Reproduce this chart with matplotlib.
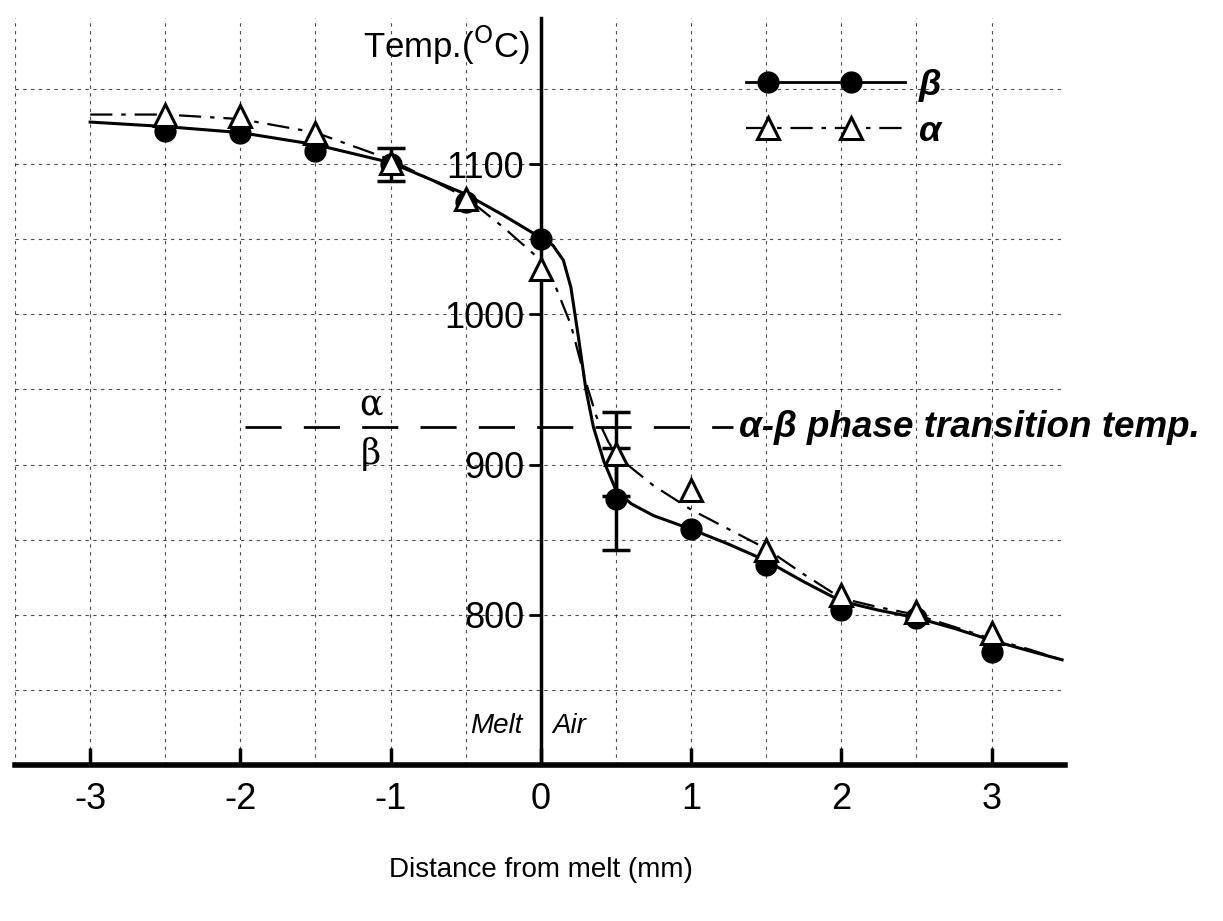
import numpy as np
import matplotlib.pyplot as plt
from matplotlib.lines import Line2D
from matplotlib.legend_handler import HandlerBase

# measured points (distance from melt in mm, temperature in C)
dist = [-2.5, -2.0, -1.5, -1.0, -0.5, 0.0, 0.5, 1.0, 1.5, 2.0, 2.5, 3.0]
temp_beta = [1122, 1121, 1109, 1100, 1075, 1050, 877, 857, 833, 803, 798, 775]
temp_alpha = [1133, 1132, 1121, 1101, 1077, 1030, 907, 883, 843, 813, 802, 788]

# error bars
err_alpha_x = [-1.0, 0.5]
err_alpha_y = [1100, 907]
err_alpha = [11, 28]
err_beta_x = [0.5]
err_beta_y = [877]
err_beta = [34]

# hand drawn guide curves
curve_beta_x = [-3.0, -2.5, -2.0, -1.5, -1.0, -0.5, -0.25, 0.0, 0.08, 0.15, 0.2, 0.25, 0.3,
                0.35, 0.42, 0.5, 0.6, 0.75, 1.0, 1.25, 1.5, 1.75, 2.0, 2.25, 2.5, 2.75,
                3.0, 3.25, 3.47]
curve_beta_y = [1128, 1125, 1121, 1113, 1101, 1080, 1066, 1051, 1046, 1036, 1018, 985, 950,
                925, 902, 883, 874, 866, 857, 847, 836, 822, 809, 803, 798, 791,
                783, 776, 770]
curve_alpha_x = [-3.0, -2.5, -2.0, -1.5, -1.0, -0.5, -0.25, 0.0, 0.1, 0.2, 0.3, 0.37, 0.45,
                 0.5, 0.6, 0.75, 1.0, 1.25, 1.5, 1.75, 2.0, 2.25, 2.5, 2.75, 3.0, 3.25, 3.47]
curve_alpha_y = [1133, 1133, 1130, 1121, 1103, 1078, 1058, 1036, 1018, 993, 955, 932, 915,
                 907, 898, 886, 870, 857, 844, 827, 811, 805, 800, 792, 784, 777, 770]

transition_temp = 925
xticks = [-3, -2, -1, 0, 1, 2, 3]
yticks = [800, 900, 1000, 1100]

plt.rcParams['font.family'] = ['Liberation Sans', 'DejaVu Sans']


class TwoMarkerHandler(HandlerBase):
    # line over the full handle, two markers on its left part
    def create_artists(self, legend, orig_handle, xdescent, ydescent, width, height,
                       fontsize, trans):
        y = height / 2.0 - ydescent
        line = Line2D([-xdescent, -xdescent + width], [y, y])
        line.update_from(orig_handle)
        line.set_marker('None')
        marks = Line2D(-xdescent + width * np.array([0.14, 0.66]), [y, y])
        marks.update_from(orig_handle)
        marks.set_linestyle('None')
        line.set_transform(trans)
        marks.set_transform(trans)
        return [line, marks]


fig = plt.figure(figsize=(12.23, 9.21), dpi=100)
ax = fig.add_axes([0.0123, 0.1694, 0.8586, 0.8106])
ax.set_xlim(-3.5, 3.49)
ax.set_ylim(700, 1197)

# grid every 0.5 mm / 50 C
for gx in np.arange(-3.5, 3.51, 0.5):
    ax.axvline(gx, color='black', lw=0.8, ls=(0, (3, 4)), alpha=0.7, zorder=0)
for gy in np.arange(750, 1151, 50):
    ax.axhline(gy, color='black', lw=0.8, ls=(0, (3, 4)), alpha=0.7, zorder=0)

ax.plot(curve_beta_x, curve_beta_y, color='black', lw=2.2, zorder=2)
ax.plot(curve_alpha_x, curve_alpha_y, color='black', lw=1.6,
        ls=(0, (10, 4, 2, 4)), zorder=2)

ax.errorbar(err_beta_x, err_beta_y, yerr=err_beta, fmt='none', ecolor='black',
            elinewidth=2.5, capsize=10, capthick=2.5, zorder=3)
ax.errorbar(err_alpha_x, err_alpha_y, yerr=err_alpha, fmt='none', ecolor='black',
            elinewidth=2.5, capsize=10, capthick=2.5, zorder=3)

ax.plot(dist, temp_beta, 'o', color='black', ms=15, zorder=4)
ax.plot(dist, temp_alpha, '^', mfc='white', mec='black', mew=2.2, ms=16, zorder=5)

# phase transition line
ax.plot([-1.97, 1.28], [transition_temp, transition_temp], color='black', lw=2,
        ls=(0, (13, 8)), zorder=1)
ax.text(-1.13, 940, u'\u03b1', fontsize=25, family='DejaVu Serif', ha='center', va='center')
ax.text(-1.13, 907, u'\u03b2', fontsize=25, family='DejaVu Serif', ha='center', va='center')
ax.text(1.32, transition_temp, u'\u03b1-\u03b2 phase transition temp.', fontsize=26.5,
        fontweight='bold', style='italic', ha='left', va='center')

ax.text(-0.12, 726, 'Melt', fontsize=20, style='italic', ha='right', va='center')
ax.text(0.08, 726, 'Air', fontsize=20, style='italic', ha='left', va='center')

# axes
for s in ['top', 'right']:
    ax.spines[s].set_visible(False)
ax.spines['left'].set_position(('data', 0))
ax.spines['left'].set_linewidth(2.5)
ax.spines['bottom'].set_linewidth(4)
ax.set_xticks(xticks)
ax.set_xticklabels([str(t) for t in xticks])
ax.set_yticks(yticks)
ax.tick_params(axis='x', direction='in', length=12, width=2.5, labelsize=26, pad=12)
ax.tick_params(axis='y', direction='out', length=9, width=2, labelsize=26, pad=3)

ax.text(-0.07, 1179, r'Temp.($^{\rm O}$C)', fontsize=25, ha='right', va='center')
fig.text(0.4425, 0.055, 'Distance from melt (mm)', fontsize=20, ha='center', va='center')

handles = [Line2D([], [], color='black', lw=2, marker='o', ms=15),
           Line2D([], [], color='black', lw=1.6, ls=(0, (10, 4, 2, 4)), marker='^',
                  mfc='white', mec='black', mew=2.2, ms=16)]
leg = ax.legend(handles, [u'\u03b2', u'\u03b1'], loc='upper left',
                bbox_to_anchor=(0.665, 0.977),
                handler_map={Line2D: TwoMarkerHandler()}, handlelength=4.4, frameon=False,
                fontsize=26, labelspacing=0.3, handletextpad=0.4)
for t in leg.get_texts():
    t.set_fontstyle('italic')
    t.set_fontweight('bold')

fig.savefig('out.png', dpi=100)
